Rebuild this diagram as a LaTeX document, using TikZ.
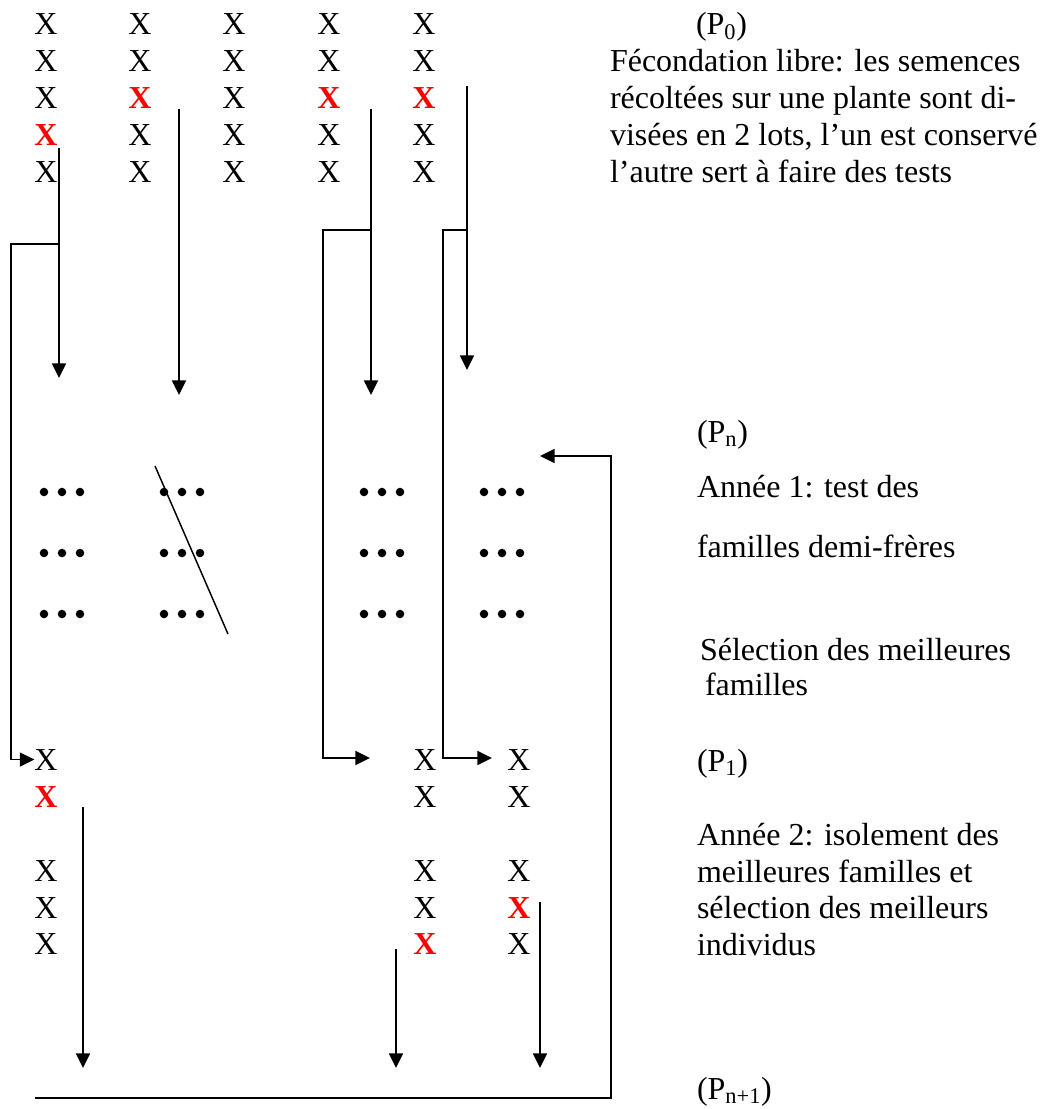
\documentclass[tikz,border=0pt]{standalone}
\usepackage{fontspec}
\setmainfont{Liberation Serif}
\usetikzlibrary{arrows.meta}
\begin{document}
\begin{tikzpicture}[x=0.75pt,y=-0.75pt,
  every node/.style={inner sep=0pt, outer sep=0pt, font=\fontsize{24}{28}\selectfont},
  xmark/.style={anchor=base},
  xsel/.style={anchor=base, text=red, font=\fontsize{24}{28}\selectfont\bfseries},
  lab/.style={anchor=base west},
  conn/.style={line width=1.3pt},
  arr/.style={conn, -{Triangle[length=11pt,width=10.5pt]}}]
\useasboundingbox (0,0) rectangle (1040,1109);

% ---- initial population P0: 5 x 5 plants
\foreach \r/\y in {1/35,2/72,5/183}
  \foreach \c/\x in {1/46,2/140,3/234,4/329,5/424}
    \node[xmark] (t\r\c) at (\x,\y) {X};
\foreach \c/\x in {1/46,3/234}
  \node[xmark] (t3\c) at (\x,109) {X};
\foreach \c/\x in {2/140,4/329,5/424}
  \node[xsel] (t3\c) at (\x,109) {X};
\node[xsel] (t41) at (46,146) {X};
\foreach \c/\x in {2/140,3/234,4/329,5/424}
  \node[xmark] (t4\c) at (\x,146) {X};

% ---- right-hand labels
\node[lab] (p0) at (696,35) {(P\textsubscript{0})};
\node[lab] (d1) at (610,72)  {Fécondation libre: les semences};
\node[lab] (d2) at (610,109) {récoltées sur une plante sont di-};
\node[lab] (d3) at (610,146) {visées en 2 lots, l’un est conservé};
\node[lab] (d4) at (610,183) {l’autre sert à faire des tests};

\node[lab] (pn) at (697,442) {(P\textsubscript{n})};
\node[lab] (a1) at (697,497) {Année 1: test des};
\node[lab] (a2) at (697,557) {familles demi-frères};
\node[lab] (s1) at (700,660) {Sélection des meilleures};
\node[lab] (s2) at (705,695) {familles};
\node[lab] (p1) at (697,771) {(P\textsubscript{1})};
\node[lab] (b1) at (697,845) {Année 2: isolement des};
\node[lab] (b2) at (697,882) {meilleures familles et};
\node[lab] (b3) at (697,918) {sélection des meilleurs};
\node[lab] (b4) at (697,955) {individus};
\node[lab] (pn1) at (697,1099) {(P\textsubscript{n+1})};

% ---- half-sib family test plots
\foreach \gx in {62,182,382,502}
  \foreach \gy in {492,553,614}
    \foreach \d in {-18,0,18}
      \fill (\gx+\d,\gy) circle[radius=3.2pt];
% discarded family
\draw[line width=1.1pt] (155,466) -- (228,634);

% ---- population P1: selected families
\foreach \r/\y in {1/770,3/881,4/918,5/954}
  \node[xmark] (ba\r) at (46,\y) {X};
\node[xsel] (ba2) at (46,807) {X};
\foreach \r/\y in {1/770,2/807,3/881,4/918}
  \node[xmark] (bb\r) at (425,\y) {X};
\node[xsel] (bb5) at (425,954) {X};
\foreach \r/\y in {1/770,2/807,3/881,5/954}
  \node[xmark] (bc\r) at (519,\y) {X};
\node[xsel] (bc4) at (519,918) {X};

% ---- seed lots of the selected plants
\coordinate (u1) at (59,148);  \coordinate (v1) at (59,378);  \coordinate (j1) at (59,244);
\coordinate (u2) at (179,109); \coordinate (v2) at (179,395);
\coordinate (u3) at (371,109); \coordinate (v3) at (371,395); \coordinate (j3) at (371,230);
\coordinate (u4) at (467,86);  \coordinate (v4) at (467,370); \coordinate (j4) at (467,230);
\draw[arr] (u1) -- (v1);
\draw[arr] (u2) -- (v2);
\draw[arr] (u3) -- (v3);
\draw[arr] (u4) -- (v4);

% ---- remnant seed lots sown for the next cycle
\coordinate (e3) at (370,758);
\coordinate (e4) at (492,758);
\draw[arr] (j1) -- (11,244) |- (ba1.west);
\draw[arr] (j3) -- (323,230) |- (e3);
\draw[arr] (j4) -- (443,230) |- (e4);

% ---- best individuals go to the recombination
\coordinate (w1) at (83,807);  \coordinate (z1) at (83,1068);
\coordinate (w2) at (396,949); \coordinate (z2) at (396,1068);
\coordinate (w3) at (540,902); \coordinate (z3) at (540,1068);
\draw[arr] (w1) -- (z1);
\draw[arr] (w2) -- (z2);
\draw[arr] (w3) -- (z3);

% ---- recombination and return to the start of the cycle
\coordinate (r0) at (35,1098);
\coordinate (r1) at (611,1098);
\coordinate (fb) at (540,456);
\draw[arr] (r0) -- (r1) |- (fb);
\end{tikzpicture}
\end{document}
